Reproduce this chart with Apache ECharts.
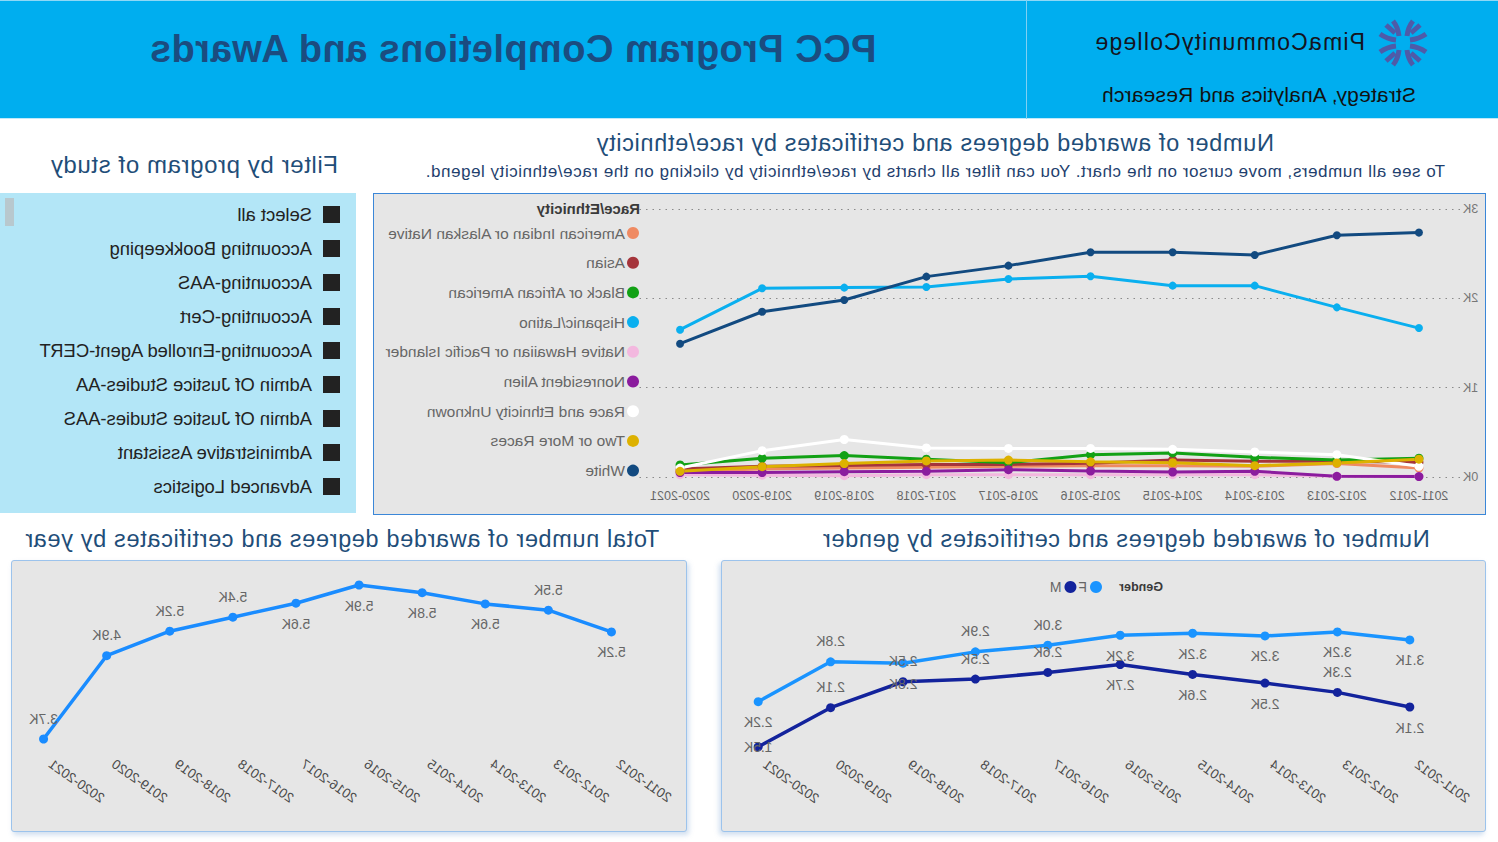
<!DOCTYPE html>
<html><head><meta charset="utf-8">
<script src="https://cdn.jsdelivr.net/npm/echarts@6/dist/echarts.min.js"></script>
<style>
html,body{margin:0;padding:0;background:#fff;overflow:hidden}
#page{position:relative;width:1498px;height:842px;transform:scaleX(-1);transform-origin:749px 421px;font-family:'Liberation Sans',Arial,sans-serif;background:#fff;overflow:hidden}
.abs{position:absolute;white-space:nowrap}
#header{left:0;top:0;width:1498px;height:119px;background:#00AEEF;border-top:1px solid #8fd8f6;border-bottom:1px solid #bfe9fa;box-sizing:border-box}
#divider{left:471px;top:0;width:1px;height:119px;background:#7fd0f3}
#mainTitle{left:472px;width:1026px;top:28px;text-align:center;font-weight:bold;font-size:38px;color:#1B4C80;letter-spacing:0.45px}
#logoName{left:133px;top:29px;font-size:23px;color:#141420;letter-spacing:1.2px}
#logoSub{left:82px;top:83px;font-size:21px;color:#111;letter-spacing:0.2px}
.sectTitle{font-size:23.5px;color:#1F4E79;letter-spacing:0.65px}
#raceTitle{left:0;width:1126px;top:130px;text-align:center}
#raceSub{left:0;width:1126px;top:162px;text-align:center;font-size:17px;letter-spacing:0.55px;color:#1F3F6E}
#filterTitle{left:1160px;top:151px;font-size:24px;letter-spacing:0.6px;color:#1F4E79}
#filterPanel{left:1142px;top:193px;width:356px;height:320px;background:#B3E6F7}
.fItem{position:absolute;left:16px;height:20px;font-size:18.4px;color:#222;white-space:nowrap}
.fItem .sq{position:absolute;left:0;top:1px;width:17px;height:17px;background:#222}
.fItem .tx{position:absolute;left:28px;top:0;line-height:20px}
#thumb{left:1484px;top:198px;width:9px;height:28px;background:#B8C8CE}
.panel{position:absolute;background:#E6E6E6;box-sizing:border-box}
#raceChart{left:12px;top:193px;width:1113px;height:322px;border:1px solid #3B87D8}
#totalChart{left:811px;top:560px;width:676px;height:272px;border:1px solid #9CC3EC;box-shadow:-2px 3px 5px rgba(120,160,210,0.35);border-radius:3px}
#genderChart{left:12px;top:560px;width:765px;height:272px;border:1px solid #9CC3EC;box-shadow:2px 3px 5px rgba(120,160,210,0.35);border-radius:3px}
#totalTitle{left:811px;width:690px;top:526px;text-align:center}
#genderTitle{left:12px;width:720px;top:526px;text-align:center}
</style></head>
<body>
<div id="page">
  <div id="header" class="abs"></div>
  <div id="divider" class="abs"></div>
  <div id="mainTitle" class="abs">PCC Program Completions and Awards</div>
  <svg class="abs" style="left:69px;top:17px" width="52" height="52" viewBox="-26 -26 52 52">
    <g fill="none" stroke="#4F5BA8" stroke-width="5" stroke-linecap="butt">
      <path d="M-4,-7 Q-5,-16 -10,-22"/><path d="M4,-7 Q5,-16 10,-22"/>
      <path d="M-4,7 Q-5,16 -10,22"/><path d="M4,7 Q5,16 10,22"/>
      <path d="M-7,-3 Q-16,-4 -23,-9"/><path d="M-7,3 Q-16,4 -23,9"/>
      <path d="M7,-3 Q16,-4 23,-9"/><path d="M7,3 Q16,4 23,9"/>
      <path d="M-8,-10 L-17,-18"/><path d="M8,-10 L17,-18"/>
      <path d="M-8,10 L-17,18"/><path d="M8,10 L17,18"/>
    </g>
  </svg>
  <div id="logoName" class="abs">PimaCommunityCollege</div>
  <div id="logoSub" class="abs">Strategy, Analytics and Research</div>

  <div id="raceTitle" class="abs sectTitle">Number of awarded degrees and certificates by race/ethnicity</div>
  <div id="raceSub" class="abs">To see all numbers, move cursor on the chart. You can filter all charts by race/ethnicity by clicking on the race/ethnicity legend.</div>
  <div id="filterTitle" class="abs">Filter by program of study</div>
  <div id="filterPanel" class="abs"></div>
  <div id="thumb" class="abs"></div>

  <div id="raceChart" class="panel"></div>
  <div id="totalTitle" class="abs sectTitle">Total number of awarded degrees and certificates by year</div>
  <div id="genderTitle" class="abs sectTitle">Number of awarded degrees and certificates by gender</div>
  <div id="totalChart" class="panel"></div>
  <div id="genderChart" class="panel"></div>
</div>
<script>
// ---------- DATA ----------
const years = ['2011-2012','2012-2013','2013-2014','2014-2015','2015-2016','2016-2017','2017-2018','2018-2019','2019-2020','2020-2021'];
const raceNames = ['American Indian or Alaskan Native','Asian','Black or African American','Hispanic/Latino','Native Hawaiian or Pacific Islander','Nonresident Alien','Race and Ethnicity Unknown','Two or More Races','White'];
const americanIndian = [100,150,120,127,127,120,110,100,90,65];
const asian          = [165,175,175,190,155,140,140,130,120,90];
const black          = [210,190,220,270,250,160,200,240,210,135];
const hispanic       = [1667,1899,2142,2142,2247,2217,2127,2120,2112,1649];
const nativeHawaiian = [8,8,26,26,26,26,26,15,20,26];
const nonresident    = [5,8,64,56,67,82,64,60,50,50];
const unknownRace    = [120,250,280,310,320,320,325,420,295,100];
const twoOrMore      = [200,157,127,160,170,190,180,150,115,64];
const white          = [2736,2707,2486,2516,2516,2366,2243,1981,1850,1492];
const totalAwards    = [5230,5540,5630,5790,5900,5640,5440,5240,4890,3700];
const female         = [3110,3230,3170,3210,3180,3030,2930,2760,2780,2180];
const male           = [2100,2320,2460,2590,2740,2620,2520,2480,2090,1500];
const raceTicks      = [0,1000,2000,3000];
const filterItems = ['Select all','Accounting Bookkeeping','Accounting-AAS','Accounting-Cert','Accounting-Enrolled Agent-CERT','Admin Of Justice Studies-AA','Admin Of Justice Studies-AAS','Administrative Assistant','Advanced Logistics'];

// ---------- STYLE ----------
const raceColors = ['#EF8A62','#A5343B','#12A115','#0AAFEF','#F3B8DF','#8B1C9E','#FFFFFF','#DDB100','#124A80'];
const totalLabelPos  = ['bottom','top','bottom','bottom','bottom','bottom','top','top','top','top'];
const femaleLabelPos = ['bottom','bottom','bottom','bottom','bottom','top','top','bottom','top','bottom'];
const maleLabelPos   = ['bottom','top','bottom','bottom','bottom','top','top','top','top','inside'];
const fmtK = v => (v/1000).toFixed(1)+'K';
const FF = 'Liberation Sans';
const rotLabel = {rotate:35,color:'#4a4a4a',fontSize:13.5,margin:5,padding:[0,8,0,0],fontFamily:FF};

// filter list
const fp = document.getElementById('filterPanel');
filterItems.forEach((t,i)=>{
  const d=document.createElement('div'); d.className='fItem'; d.style.top=(12+34*i)+'px';
  d.innerHTML='<div class="sq"></div><div class="tx"></div>'; d.querySelector('.tx').textContent=t; fp.appendChild(d);
});

// ---------- RACE CHART ----------
const raceData=[americanIndian,asian,black,hispanic,nativeHawaiian,nonresident,unknownRace,twoOrMore,white];
const rc = echarts.init(document.getElementById('raceChart'),null,{renderer:'svg'});
rc.setOption({
  animation:false,
  title:{text:'Race/Ethnicity',left:845,top:7,padding:0,textStyle:{fontSize:15,fontWeight:'bold',color:'#3a3a3a',fontFamily:FF}},
  legend:{orient:'vertical',left:846,top:31,padding:0,itemWidth:12,itemHeight:12,itemGap:13.7,icon:'circle',
    textStyle:{fontSize:15.5,color:'#666',fontFamily:FF,padding:[0,0,0,-3]},data:raceNames},
  grid:{left:25,width:821,top:15,height:268,outerBoundsMode:'none'},
  xAxis:{type:'category',data:years,boundaryGap:true,axisLine:{show:false},axisTick:{show:false},
    axisLabel:{color:'#666',fontSize:12.5,margin:12,fontFamily:FF}},
  yAxis:{type:'value',min:raceTicks[0],max:raceTicks[raceTicks.length-1],interval:raceTicks[1]-raceTicks[0],
    axisLabel:{color:'#777',fontSize:12.5,margin:3,formatter:v=>(v/1000)+'K',fontFamily:FF},
    splitLine:{lineStyle:{color:'#8a8a8a',type:[1.5,5],width:1.2}}},
  series:raceNames.map((n,i)=>({name:n,type:'line',data:raceData[i],color:raceColors[i],
    symbol:'circle',symbolSize:(i===3||i===8)?8:9,lineStyle:{width:3},z:(i===3||i===8)?5:2}))
});

// ---------- TOTAL CHART ----------
const tc = echarts.init(document.getElementById('totalChart'),null,{renderer:'svg'});
tc.setOption({
  animation:false,
  grid:{left:43,right:0,top:17,height:175,outerBoundsMode:'none'},
  xAxis:{type:'category',data:years,boundaryGap:true,axisLine:{show:false},axisTick:{show:false},axisLabel:rotLabel},
  yAxis:{type:'value',min:3500,max:6000,show:false,splitLine:{show:false}},
  series:[{type:'line',color:'#1A8CFF',symbol:'circle',symbolSize:9,lineStyle:{width:3.5},
    data:totalAwards.map((v,i)=>({value:v,label:{position:totalLabelPos[i]}})),
    label:{show:true,distance:9,formatter:p=>fmtK(p.value),color:'#666',fontSize:14,fontFamily:FF}}]
});

// ---------- GENDER CHART ----------
const gc = echarts.init(document.getElementById('genderChart'),null,{renderer:'svg'});
gc.setOption({
  animation:false,
  title:{text:'Gender',left:322,top:19,padding:0,textStyle:{fontSize:12.5,fontWeight:'bold',color:'#3a3a3a',fontFamily:FF}},
  legend:{left:383,top:19,padding:0,itemWidth:12,itemHeight:12,itemGap:2,icon:'circle',textStyle:{fontSize:14,color:'#666',fontFamily:FF,padding:[0,0,0,-2]},data:['F','M']},
  grid:{left:39,right:0,top:53,height:139.5,outerBoundsMode:'none'},
  xAxis:{type:'category',data:years,boundaryGap:true,axisLine:{show:false},axisTick:{show:false},axisLabel:rotLabel},
  yAxis:{type:'value',min:1400,max:3500,show:false,splitLine:{show:false}},
  series:[
    {name:'F',type:'line',color:'#1A94FF',symbol:'circle',symbolSize:9,lineStyle:{width:3.5},
      data:female.map((v,i)=>({value:v,label:{position:femaleLabelPos[i]}})),
      label:{show:true,distance:9,formatter:p=>fmtK(p.value),color:'#666',fontSize:14,fontFamily:FF}},
    {name:'M',type:'line',color:'#13239C',symbol:'circle',symbolSize:9,lineStyle:{width:3.5},
      data:male.map((v,i)=>({value:v,label:{position:maleLabelPos[i]}})),
      label:{show:true,distance:9,formatter:p=>fmtK(p.value),color:'#666',fontSize:14,fontFamily:FF}}
  ]
});
</script>
</body></html>
